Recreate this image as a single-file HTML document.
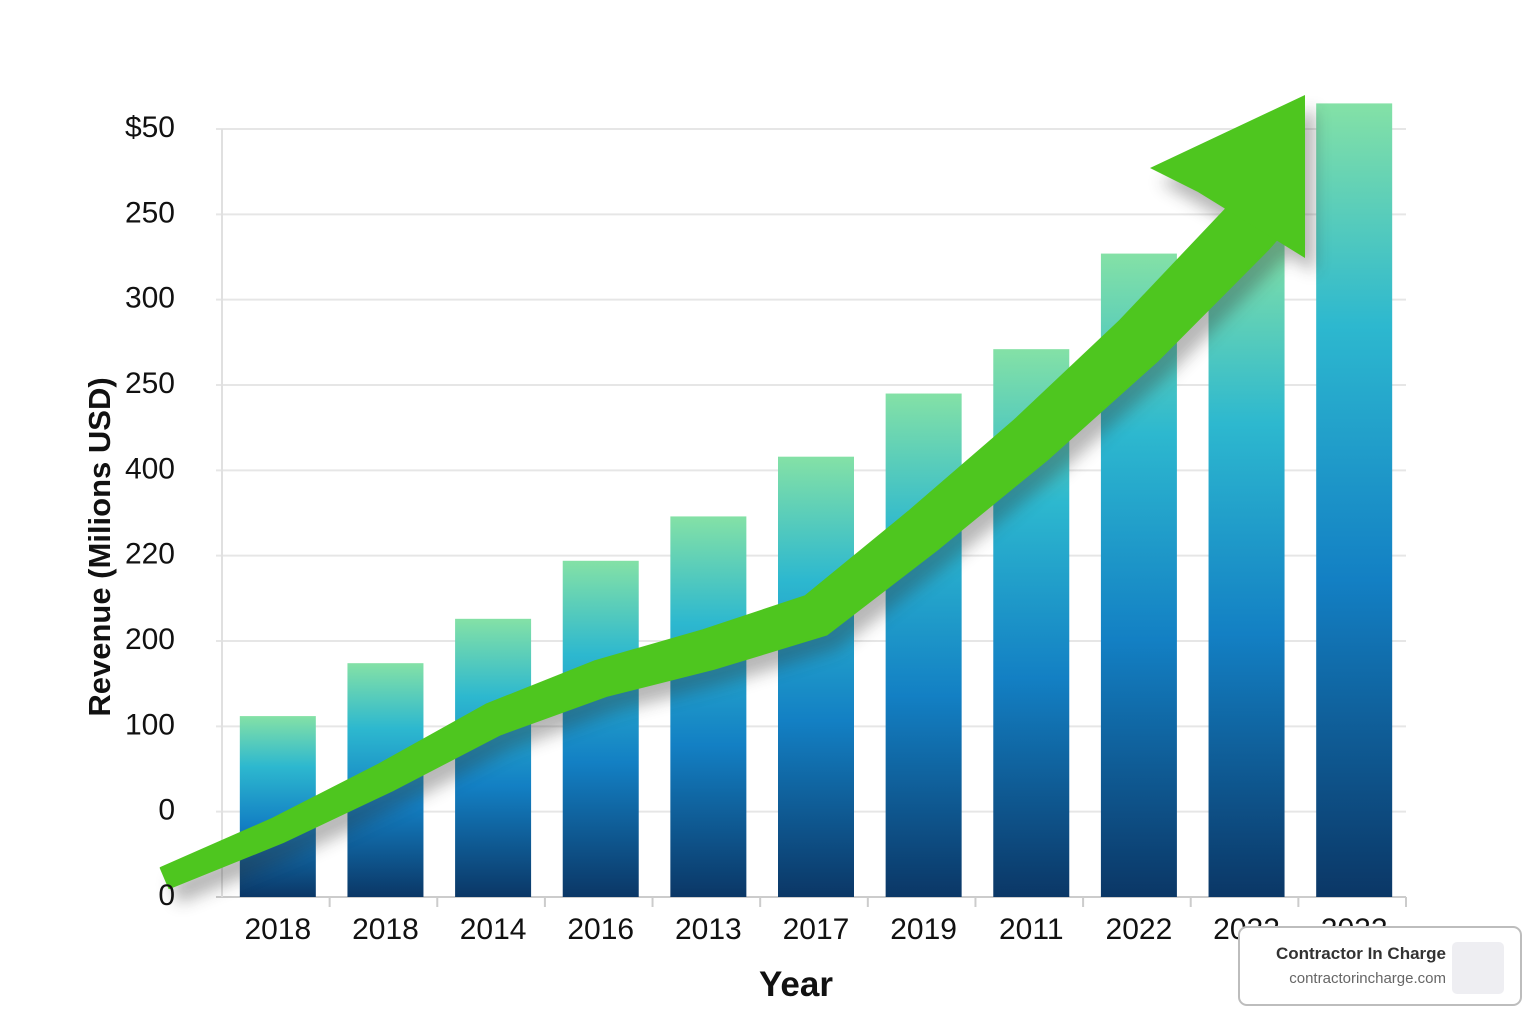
<!DOCTYPE html>
<html><head><meta charset="utf-8"><style>
body{margin:0;background:#fff;width:1536px;height:1024px;overflow:hidden;font-family:"Liberation Sans",sans-serif}
.wm{position:absolute;left:1238px;top:926px;width:284px;height:80px;border:2px solid #bdbdbd;border-radius:9px;background:#fff;box-sizing:border-box}
</style></head><body>
<svg id="chart" width="1536" height="1024" style="position:absolute;left:0;top:0">
<defs>
<linearGradient id="barg" x1="0" y1="0" x2="0" y2="1">
<stop offset="0" stop-color="#84e1a6"/><stop offset="0.28" stop-color="#2db8cf"/><stop offset="0.6" stop-color="#1380c4"/><stop offset="1" stop-color="#0b3766"/>
</linearGradient>
<filter id="sh" x="-10%" y="-10%" width="130%" height="130%"><feGaussianBlur stdDeviation="8"/></filter>
</defs>
<g id="grid"></g><g id="bars"></g><g id="arrow"></g><g id="labels"></g>
<text transform="translate(110,547) rotate(-90)" text-anchor="middle" font-size="31" font-weight="bold" fill="#111">Revenue (Milions USD)</text>
<text x="796" y="996" text-anchor="middle" font-size="35" font-weight="bold" fill="#111">Year</text>
</svg>
<div class="wm">
<div style="position:absolute;right:74px;top:16px;font-size:17px;font-weight:bold;color:#333">Contractor In Charge</div>
<div style="position:absolute;right:74px;top:42px;font-size:15px;color:#666">contractorincharge.com</div>
<div style="position:absolute;right:16px;top:14px;width:52px;height:52px;background:#eeeef2;border-radius:5px"></div>
</div>
<script>
const categories=["2018","2018","2014","2016","2013","2017","2019","2011","2022","2022","2022"];
const revenue=[106,137,163,197,223,258,295,321,377,385,465];
const trend=[39,70,104,128,145,165,215,268,326,391];
const tickValues=[0,50,100,150,200,250,300,350,400,450];
const tickLabels=["0","0","100","200","220","400","250","300","250","$50"];
const NS="http://www.w3.org/2000/svg";
const X0=222,X1=1406,Y0=897,Y1=129,VMAX=450;
const band=(X1-X0)/categories.length;
const xc=i=>X0+band*(i+0.5)+2;
const y=v=>Y0-(v/VMAX)*(Y0-Y1);
function mk(t,a,p){const e=document.createElementNS(NS,t);for(const k in a)e.setAttribute(k,a[k]);p.appendChild(e);return e;}
const grid=document.getElementById('grid'),bars=document.getElementById('bars'),lab=document.getElementById('labels'),arr=document.getElementById('arrow');
tickValues.forEach((v,i)=>{
 const l=mk('line',{x1:X0-6,x2:X1,y1:y(v),y2:y(v),stroke:i==0?'#ccc':'#e6e6e6','stroke-width':2},grid);
 
 
 const t=mk('text',{x:175,y:y(v)+8,'text-anchor':'end','font-size':30,fill:'#111'},lab);
 t.textContent=tickLabels[i];
 
 
});
mk('line',{x1:X0,x2:X0,y1:Y1,y2:Y0,stroke:'#e0e0e0','stroke-width':2},grid);
categories.forEach((c,i)=>{
 const bw=76;
 const r=mk('rect',{x:xc(i)-bw/2,y:y(revenue[i]),width:bw,height:Y0-y(revenue[i]),fill:'url(#barg)'},bars);
 
 
 mk('line',{x1:X0+band*(i+1),x2:X0+band*(i+1),y1:Y0,y2:Y0+10,stroke:'#ccc','stroke-width':2},grid);
 const t=mk('text',{x:xc(i),y:939,'text-anchor':'middle','font-size':30,fill:'#111'},lab);
 t.textContent=c;
 
 
});
let pts=[[165,878]];
trend.forEach((v,i)=>pts.push([xc(i),y(v)]));
const last=pts[pts.length-1];
pts.push([last[0]+22,last[1]-28]);
const n=pts.length;
const left=[],right=[];
pts.forEach((p,i)=>{
 const a=pts[Math.max(0,i-1)],b=pts[Math.min(n-1,i+1)];
 let dx=b[0]-a[0],dy=b[1]-a[1];const L=Math.hypot(dx,dy);dx/=L;dy/=L;
 const w=(22+ (i/(n-1))*40)/2;
 left.push([p[0]-dy*w,p[1]+dx*w]);right.push([p[0]+dy*w,p[1]-dx*w]);
});
const poly=left.concat(right.reverse()).map(p=>p[0].toFixed(1)+','+p[1].toFixed(1)).join(' ');
const tip=[1305,95];
const g=mk('g',{transform:'translate(10,14)',opacity:0.35,filter:'url(#sh)'},arr);
mk('polygon',{points:poly,fill:'#333','stroke':'#333','stroke-width':2,'stroke-linejoin':'round'},g);
mk('polygon',{points:`${tip[0]},${tip[1]} 1150,168 1305,258`,fill:'#333'},g);
const p=mk('polygon',{points:poly,fill:'#4ec61f',stroke:'#4ec61f','stroke-width':2,'stroke-linejoin':'round'},arr);


const h=mk('polygon',{points:`${tip[0]},${tip[1]} 1150,168 1198,192 1305,258`,fill:'#4ec61f'},arr);


</script>
</body></html>
